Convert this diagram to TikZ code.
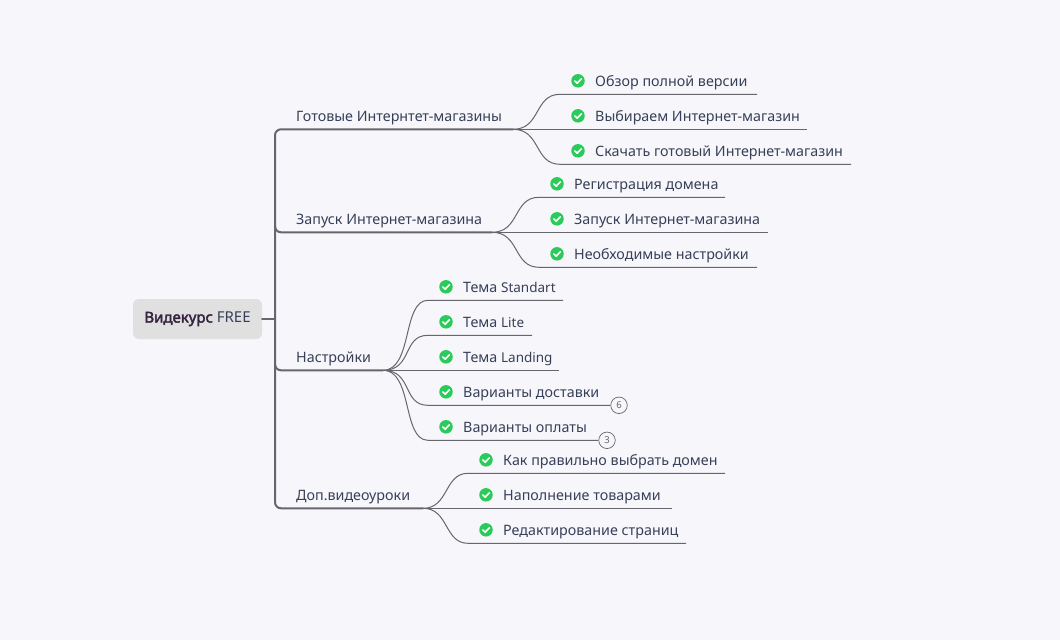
\documentclass[tikz,border=0pt]{standalone}
\usepackage{fontspec}
\usetikzlibrary{calc}
\setmainfont{Noto Sans}
\newfontfamily\rootface{Noto Sans}[FakeBold=2.5]
\definecolor{bgcol}{HTML}{F6F6FB}
\definecolor{rootcol}{HTML}{E0E0E0}
\definecolor{linecol}{HTML}{66666C}
\definecolor{textcol}{HTML}{374058}
\definecolor{rootbold}{HTML}{35233F}
\definecolor{chkcol}{HTML}{2ACB5B}
\tikzset{
  branchline/.style={draw=linecol,line width=2pt,line cap=round},
  leafline/.style={draw=linecol,line width=1pt},
  txtnode/.style={anchor=base west,inner sep=0pt,text=textcol,font=\fontsize{14.3}{16}\selectfont},
  chkdot/.style={circle,fill=chkcol,minimum size=13.5pt,inner sep=0pt},
  badge/.style={circle,draw=linecol,fill=bgcol,line width=0.7pt,minimum size=16.5pt,inner sep=0pt,text=linecol,font=\fontsize{9.5}{10}\selectfont}
}
\newcommand{\latinpart}[1]{{\fontsize{13.5}{16}\selectfont #1}}
\begin{document}
\begin{tikzpicture}[x=1pt,y=-1pt]
\useasboundingbox[fill=bgcol] (0,0) rectangle (1060,640);

% The root
\node[fill=rootcol,rounded corners=6pt,minimum width=129pt,minimum height=40pt,inner sep=0pt,font=\fontsize{15}{16}\selectfont,text=textcol] (root) at (197.5,319) {{\rootface\textcolor{rootbold}{Видекурс}} FREE};
\coordinate (spinetop) at (275,129.3);
\coordinate (spinemid) at (275,319);
\coordinate (spinebot) at (275,508.3);

% The branches
\node[txtnode] (shops) at (296,121) {Готовые Интернтет-магазины};
\node[txtnode] (launch) at (296,224) {Запуск Интернет-магазина};
\node[txtnode] (setup) at (296,362) {Настройки};
\node[txtnode] (extra) at (296,500) {Доп.видеоуроки};
\coordinate (hubA) at (513,129.3);
\coordinate (hubB) at (492,232.3);
\coordinate (hubC) at (383,370.3);
\coordinate (hubD) at (423,508.3);

\draw[branchline] (root.east) -- (spinemid);
\draw[branchline,rounded corners=6pt] (hubA) -- (spinetop) -- (spinebot) -- (hubD);
\draw[branchline,rounded corners=6pt] (275,226) |- (hubB);
\draw[branchline,rounded corners=6pt] (275,364) |- (hubC);

% The leaves: hub / name / y / line end / text
\foreach \hub/\nm/\yy/\xend/\txt in {
  hubA/a/94.3/757/{Обзор полной версии},
  hubA/b/129.3/807/{Выбираем Интернет-магазин},
  hubA/c/164.3/851/{Скачать готовый Интернет-магазин}}
{
  \coordinate (\nm end) at (\xend,\yy);
  \coordinate (\nm in) at (560,\yy);
  \node[chkdot] (\nm chk) at (578,\yy-13.5) {};
  \node[txtnode] (\nm txt) at (595,\yy-8.3) {\txt};
  \draw[leafline] (\hub) .. controls ($(\hub)+(28,0)$) and ($(\nm in)+(-26,0)$) .. (\nm in) -- (\nm end);
}
\foreach \hub/\nm/\yy/\xend/\txt in {
  hubB/d/197.3/725/{Регистрация домена},
  hubB/e/232.3/768/{Запуск Интернет-магазина},
  hubB/f/267.3/757/{Необходимые настройки}}
{
  \coordinate (\nm end) at (\xend,\yy);
  \coordinate (\nm in) at (539,\yy);
  \node[chkdot] (\nm chk) at (557,\yy-13.5) {};
  \node[txtnode] (\nm txt) at (574,\yy-8.3) {\txt};
  \draw[leafline] (\hub) .. controls ($(\hub)+(28,0)$) and ($(\nm in)+(-26,0)$) .. (\nm in) -- (\nm end);
}
\foreach \hub/\nm/\yy/\xend/\txt in {
  hubC/g/300.3/563/{Тема \latinpart{Standart}},
  hubC/h/335.3/532/{Тема \latinpart{Lite}},
  hubC/i/370.3/559/{Тема \latinpart{Landing}},
  hubC/j/405.3/610/{Варианты доставки},
  hubC/k/440.3/598/{Варианты оплаты}}
{
  \coordinate (\nm end) at (\xend,\yy);
  \coordinate (\nm in) at (428,\yy);
  \node[chkdot] (\nm chk) at (446,\yy-13.5) {};
  \node[txtnode] (\nm txt) at (463,\yy-8.3) {\txt};
  \draw[leafline] (\hub) .. controls ($(\hub)+(30,0)$) and ($(\nm in)+(-26,0)$) .. (\nm in) -- (\nm end);
}
\foreach \hub/\nm/\yy/\xend/\txt in {
  hubD/l/473.3/725/{Как правильно выбрать домен},
  hubD/m/508.3/672/{Наполнение товарами},
  hubD/n/543.3/686/{Редактирование страниц}}
{
  \coordinate (\nm end) at (\xend,\yy);
  \coordinate (\nm in) at (468,\yy);
  \node[chkdot] (\nm chk) at (486,\yy-13.5) {};
  \node[txtnode] (\nm txt) at (503,\yy-8.3) {\txt};
  \draw[leafline] (\hub) .. controls ($(\hub)+(26,0)$) and ($(\nm in)+(-24,0)$) .. (\nm in) -- (\nm end);
}

% The check marks
\foreach \nm in {a,b,c,d,e,f,g,h,i,j,k,l,m,n}
  \draw[white,line width=1.6pt,line cap=round,line join=round] ($(\nm chk)+(-3.2,0.2)$) -- ($(\nm chk)+(-0.8,2.4)$) -- ($(\nm chk)+(3.4,-2)$);

% The badges
\node[badge] (jbadge) at (619,405.3) {6};
\node[badge] (kbadge) at (607,440.3) {3};
\end{tikzpicture}
\end{document}
